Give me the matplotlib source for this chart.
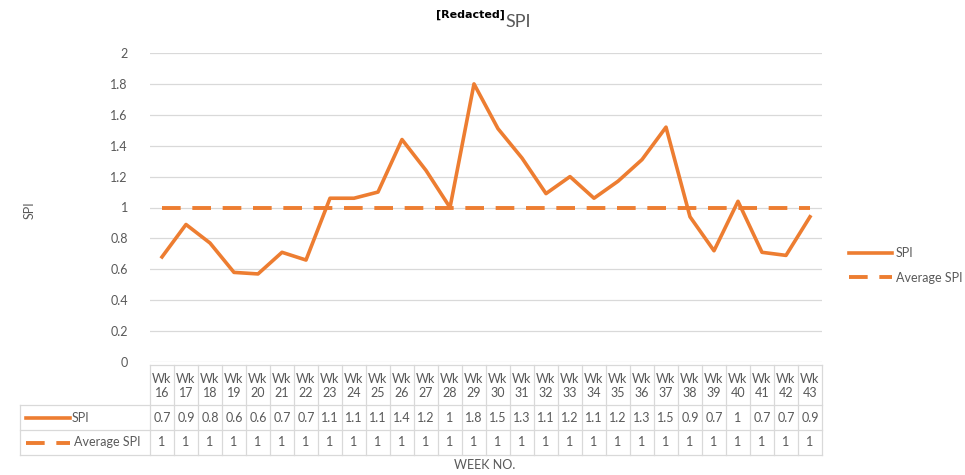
import numpy as np
import matplotlib.pyplot as plt
import matplotlib.transforms as mtrans
from matplotlib.lines import Line2D

plt.rcParams['font.family'] = ['Lato', 'DejaVu Sans']

# data
weeks = [16, 17, 18, 19, 20, 21, 22, 23, 24, 25, 26, 27, 28, 29,
         30, 31, 32, 33, 34, 35, 36, 37, 38, 39, 40, 41, 42, 43]
spi = [0.68, 0.89, 0.77, 0.58, 0.57, 0.71, 0.66, 1.06, 1.06, 1.10, 1.44, 1.24, 1.00, 1.80,
       1.51, 1.32, 1.09, 1.20, 1.06, 1.17, 1.31, 1.52, 0.94, 0.72, 1.04, 0.71, 0.69, 0.94]
avg_spi = [1] * len(weeks)
week_labels = ["Wk\n%d" % w for w in weeks]

W, H = 965, 475
orange = '#ED7D31'
grey_txt = '#595959'
grid_c = '#d9d9d9'
dash = (4.8, 3.0)

fig = plt.figure(figsize=(W / 100, H / 100), dpi=100)
# axes in pixel terms: x 150..822, y 53..362
ax = fig.add_axes([150 / W, 1 - 362 / H, 672 / W, 309 / H])

x = np.arange(len(weeks))
ax.plot(x, spi, color=orange, lw=2.6, solid_joinstyle='round', label='SPI', zorder=3)
ax.plot(x, avg_spi, color=orange, lw=2.8, dashes=dash, label='Average SPI', zorder=3)

ax.set_xlim(-0.5, len(weeks) - 0.5)
ax.set_ylim(0, 2)
ax.set_yticks(np.arange(0, 2.01, 0.2))
ax.set_yticklabels(['0', '0.2', '0.4', '0.6', '0.8', '1', '1.2', '1.4', '1.6', '1.8', '2'])
ax.set_xticks([])
ax.grid(axis='y', color=grid_c, lw=0.9)
ax.set_axisbelow(True)
for s in ax.spines.values():
    s.set_visible(False)
ax.tick_params(axis='y', length=0, pad=16, labelsize=9, labelcolor=grey_txt)


def fy(py):
    return 1 - py / H


def fx(px):
    return px / W


# title
fig.text(fx(505), fy(18), '[Redacted]', ha='right', va='baseline', fontsize=8,
         fontweight='bold', color='black', family='DejaVu Sans')
fig.text(fx(505), fy(27), 'SPI', ha='left', va='baseline', fontsize=13, color=grey_txt)

# axis titles
fig.text(fx(30), fy(210), 'SPI', rotation=90, ha='center', va='center', fontsize=9, color=grey_txt)
fig.text(fx(485), fy(465), 'WEEK NO.', ha='center', va='center', fontsize=9, color=grey_txt)

# legend on the right
ax.legend(loc='upper left', bbox_to_anchor=(fx(838), fy(236)), bbox_transform=fig.transFigure,
          frameon=False, handlelength=3.4, handletextpad=0.3, labelspacing=1.0,
          fontsize=9, labelcolor=grey_txt)

# data table below the plot
tr = mtrans.blended_transform_factory(ax.transData, fig.transFigure)
t_top, h_bot, r1_bot, r2_bot = 365, 405, 430, 455
lkw = dict(color=grid_c, lw=0.9, clip_on=False)

fig.add_artist(Line2D([-0.5, len(weeks) - 0.5], [fy(t_top)] * 2, transform=tr, **lkw))
for yy in (h_bot, r1_bot, r2_bot):
    fig.add_artist(Line2D([fx(20), fx(822)], [fy(yy)] * 2, transform=fig.transFigure, **lkw))
fig.add_artist(Line2D([fx(20), fx(20)], [fy(h_bot), fy(r2_bot)], transform=fig.transFigure, **lkw))
for i in range(len(weeks) + 1):
    fig.add_artist(Line2D([i - 0.5, i - 0.5], [fy(t_top), fy(r2_bot)], transform=tr, **lkw))

tkw = dict(ha='center', va='center', fontsize=9, color=grey_txt, transform=tr)
for i, w in enumerate(week_labels):
    fig.text(i, fy((t_top + h_bot) / 2 + 1), w, linespacing=1.25, **tkw)
    fig.text(i, fy((h_bot + r1_bot) / 2), f"{round(spi[i], 1):g}", **tkw)
    fig.text(i, fy((r1_bot + r2_bot) / 2), f"{avg_spi[i]:g}", **tkw)

# row headers with line samples
fig.add_artist(Line2D([fx(26), fx(70)], [fy(417.5)] * 2, transform=fig.transFigure,
                      color=orange, lw=2.6))
fig.add_artist(Line2D([fx(26), fx(70)], [fy(442.5)] * 2, transform=fig.transFigure,
                      color=orange, lw=2.8, dashes=dash))
fig.text(fx(72), fy(417.5), 'SPI', ha='left', va='center', fontsize=9, color=grey_txt)
fig.text(fx(74), fy(442.5), 'Average SPI', ha='left', va='center', fontsize=9, color=grey_txt)

fig.savefig('out.png', dpi=100)
